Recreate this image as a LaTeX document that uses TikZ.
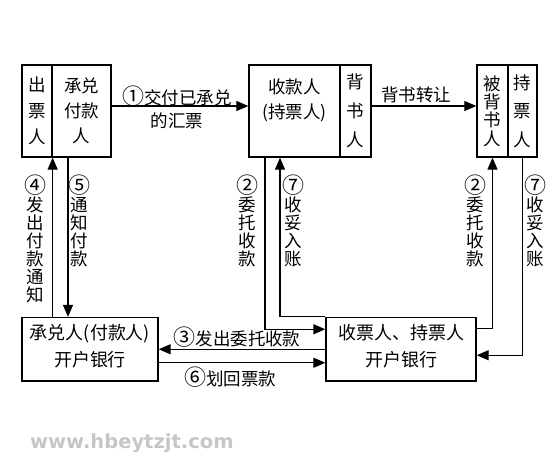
\documentclass[tikz,border=0pt]{standalone}
\usepackage{fontspec}
\newfontfamily\cjk{Noto Sans CJK SC}
\newfontfamily\wmfont{DejaVu Sans}
\newcommand\cnum[1]{{\fontsize{22}{18}\selectfont #1}}
\usetikzlibrary{arrows.meta}
\begin{document}
\begin{tikzpicture}[x=1pt,y=-1pt,
  box/.style={draw, line width=1.3pt, inner sep=0pt, align=center},
  lbl/.style={inner sep=0pt, align=center},
  fa/.style={font=\cjk\fontsize{17.5}{18}\selectfont},
  arr/.style={line width=1.2pt, -{Triangle[length=12pt,width=10pt]}}]
\useasboundingbox (0,0) rectangle (558,466);
% top boxes
\node[box, font=\cjk\fontsize{17.5}{26}\selectfont, minimum width=30pt, minimum height=92pt] (cp) at (37,111) {出\\票\\人};
\node[box, font=\cjk\fontsize{17.5}{25}\selectfont, minimum width=59pt, minimum height=92pt] (cd) at (81.5,111) {承兑\\付款\\人};
\node[box, minimum width=91pt, minimum height=92pt] (sk) at (294.5,111) {};
\node[lbl, font=\cjk\fontsize{17.5}{25}\selectfont] (skt) at (294.5,100) {收款人\\(持票人)};
\node[box, font=\cjk\fontsize{17.5}{29}\selectfont, minimum width=31pt, minimum height=92pt] (bs) at (355.5,111) {背\\书\\人};
\node[box, font=\cjk\fontsize{17.5}{18.3}\selectfont, minimum width=31pt, minimum height=92pt] (bb) at (492.5,111) {被\\背\\书\\人};
\node[box, font=\cjk\fontsize{17.5}{28.5}\selectfont, minimum width=29pt, minimum height=92pt] (cz) at (522.5,111) {持\\票\\人};
% bottom boxes
\node[box, minimum width=136pt, minimum height=63.5pt] (bl) at (90,349.25) {};
\node[lbl, font=\cjk\fontsize{18}{27}\selectfont] (blt) at (90,346.5) {承兑人(付款人)\\开户银行};
\node[box, minimum width=150pt, minimum height=63.5pt] (br) at (401,349.25) {};
\node[lbl, font=\cjk\fontsize{18}{27}\selectfont] (brt) at (401,346.5) {收票人、持票人\\开户银行};
% horizontal top arrows
\draw[arr] ([yshift=5pt]cd.east) -- ([yshift=5pt]sk.west);
\node[lbl, font=\cjk\fontsize{17.5}{23}\selectfont] (l1) at (177,107) {\cnum{①}交付已承兑\\的汇票};
\draw[arr] ([yshift=5pt]bs.east) -- ([yshift=5pt]bb.west);
\node[lbl, fa] (lbz) at (416,95) {背书转让};
% left verticals
\draw[arr] (bl.north -| cp.south east) -- (cp.south east);
\draw[arr] ([xshift=-13.5pt]cd.south) -- ([xshift=-13.5pt]cd.south |- bl.north);
\node[lbl, fa] (l4) at (35,238.5) {\cnum{④}\\发\\出\\付\\款\\通\\知};
\node[lbl, fa] (l5) at (79,221) {\cnum{⑤}\\通\\知\\付\\款};
% middle verticals
\draw[arr] ([xshift=-29.5pt]sk.south) |- ([yshift=20pt]br.west);
\draw[arr] (br.north west) -| ([xshift=-14.5pt]sk.south);
\node[lbl, fa] (l2a) at (247,221) {\cnum{②}\\委\\托\\收\\款};
\node[lbl, fa] (l7a) at (293,221) {\cnum{⑦}\\收\\妥\\入\\账};
% right verticals
\draw[arr] ([yshift=21pt]br.east) -| (bb.south);
\draw[arr] (cz.south) |- ([yshift=-6pt]br.east);
\node[lbl, fa] (l2b) at (475,221) {\cnum{②}\\委\\托\\收\\款};
\node[lbl, fa] (l7b) at (535,221) {\cnum{⑦}\\收\\妥\\入\\账};
% bottom horizontals
\draw[arr] (br.west) -- (bl.east);
\node[lbl, fa] (l3) at (237,337) {\cnum{③}发出委托收款};
\draw[arr] ([yshift=-13.5pt]bl.east) -- ([yshift=-13.5pt]bl.east -| br.west);
\node[lbl, fa] (l6) at (230,377) {\cnum{⑥}划回票款};
% watermark
\node[inner sep=0pt, anchor=base west, text=gray!45, font=\wmfont\bfseries\fontsize{19.5}{20}\selectfont] (wm) at (30,448) {www.hbeytzjt.com};
\end{tikzpicture}
\end{document}
